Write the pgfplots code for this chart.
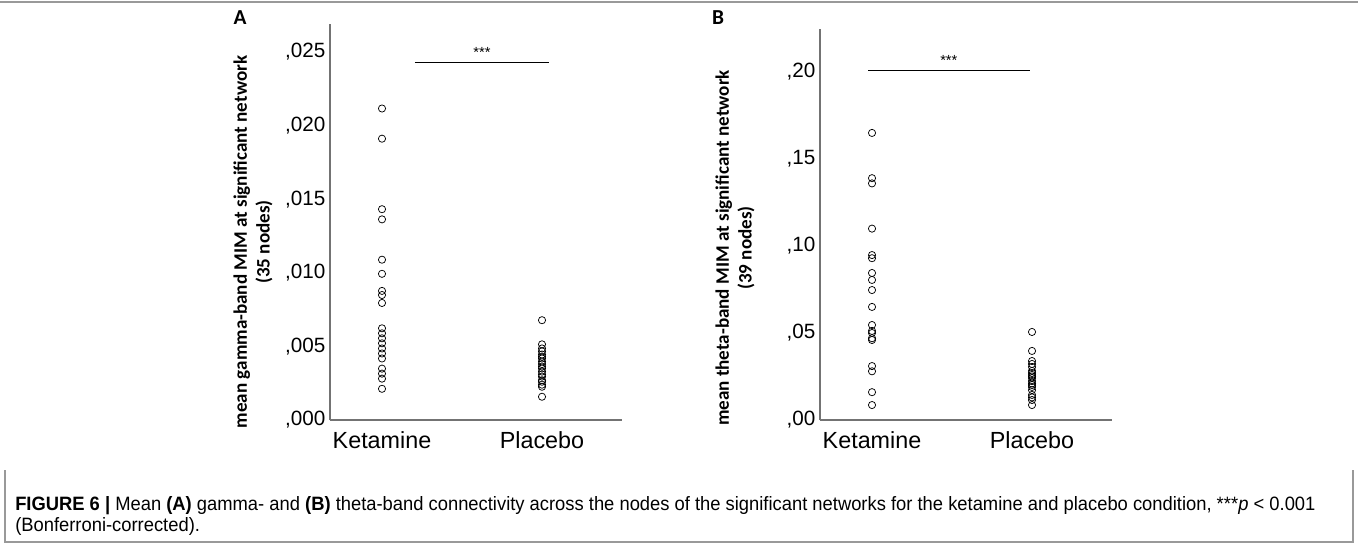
\documentclass[border=0pt]{standalone}
\usepackage{pgfplots}
\pgfplotsset{compat=1.18}
\usepackage{fontspec}
\setmainfont{Liberation Sans}
\newfontfamily\calibri{Carlito}
\newfontfamily\capfont[FakeStretch=0.95]{Liberation Sans}
\definecolor{spine}{gray}{0.45}
\definecolor{boxc}{gray}{0.6}
\begin{document}
\begin{tikzpicture}[x=0.75pt,y=0.75pt]
\useasboundingbox (0,0) rectangle (1358,544);
\coordinate (Aorig) at (330,124);
\coordinate (Borig) at (820,124);
\draw[boxc,line width=0.8pt] (0,542) -- (1358,542);
\draw[boxc,line width=0.8pt] (5,74) -- (5,2) -- (1353,2) -- (1353,74);
\pgfplotsset{
  spss/.style={
    scale only axis, anchor=south west,
    width=219pt,
    axis x line*=bottom, axis y line*=left,
    axis line style={spine, line width=0.9pt},
    major tick length=0pt,
    scaled y ticks=false,
    xmin=0.675, xmax=2.5, ymin=0,
    xtick={1,2}, xticklabels={Ketamine,Placebo},
    xticklabel style={font=\fontsize{17.5}{19}\selectfont, yshift=-5pt},
    yticklabel style={font=\fontsize{15.5}{18}\selectfont},
    clip=false,
  },
  pts/.style={only marks, mark=o, mark size=2.7pt, black, mark options={line width=0.55pt}},
}
% Panel A
\begin{axis}[spss, at={(Aorig)}, height=297pt, ymax=0.0269,
  ytick={0,0.005,0.01,0.015,0.02,0.025},
  yticklabels={{,000},{,005},{,010},{,015},{,020},{,025}}]
\addplot[pts] coordinates {
(1,0.02116) (1,0.01911) (1,0.01432) (1,0.01363) (1,0.01089) (1,0.00993)
(1,0.00877) (1,0.00849) (1,0.00795) (1,0.00623) (1,0.00589) (1,0.00555)
(1,0.00521) (1,0.00486) (1,0.00452) (1,0.00418) (1,0.00349) (1,0.00315)
(1,0.00281) (1,0.00212)};
\addplot[pts] coordinates {
(2,0.00678) (2,0.00514) (2,0.00486) (2,0.00466) (2,0.00445) (2,0.00418)
(2,0.00397) (2,0.00363) (2,0.00329) (2,0.00295) (2,0.00260) (2,0.00226)
(2,0.00158) (2,0.00430) (2,0.00380) (2,0.00350) (2,0.00310) (2,0.00270) (2,0.00240)};
\draw[black,line width=0.7pt] (axis cs:1.206,0.0243) -- (axis cs:2.044,0.0243);
\node[font=\fontsize{11}{12}\selectfont, anchor=south] at (axis cs:1.625,0.0243) {***};
\end{axis}
% Panel B
\begin{axis}[spss, at={(Borig)}, height=293.6pt, ymax=0.225,
  ytick={0,0.05,0.1,0.15,0.2},
  yticklabels={{,00},{,05},{,10},{,15},{,20}}]
\addplot[pts] coordinates {
(1,0.165) (1,0.139) (1,0.136) (1,0.110) (1,0.0948) (1,0.093) (1,0.0845)
(1,0.0805) (1,0.0747) (1,0.065) (1,0.0546) (1,0.0512) (1,0.050) (1,0.047)
(1,0.046) (1,0.031) (1,0.028) (1,0.016) (1,0.0086)};
\addplot[pts] coordinates {
(2,0.0506) (2,0.0397) (2,0.0339) (2,0.0322) (2,0.0305) (2,0.0282) (2,0.0259)
(2,0.0241) (2,0.0224) (2,0.0201) (2,0.0172) (2,0.0144) (2,0.0115) (2,0.0086)
(2,0.027) (2,0.025) (2,0.021) (2,0.019) (2,0.013)};
\draw[black,line width=0.7pt] (axis cs:0.975,0.201) -- (axis cs:1.988,0.201);
\node[font=\fontsize{11}{12}\selectfont, anchor=south] at (axis cs:1.48,0.201) {***};
\end{axis}
% panel letters
\node[font=\calibri\bfseries\fontsize{16}{18}\selectfont] at (240,526) {A};
\node[font=\calibri\bfseries\fontsize{16}{18}\selectfont] at (718,526) {B};
% y labels
\node[rotate=90, align=center, font=\calibri\bfseries\fontsize{14.3}{17}\selectfont] at (253,302)
  {mean gamma-band MIM at significant network\\(35 nodes)};
\node[rotate=90, align=center, font=\calibri\bfseries\fontsize{14.3}{17}\selectfont] at (735,296)
  {mean theta-band MIM at significant network\\(39 nodes)};
% caption
\node[anchor=base west, font=\capfont\fontsize{14.5}{16}\selectfont, inner sep=0pt] at (15,34)
  {\textbf{FIGURE 6 |} Mean \textbf{(A)} gamma- and \textbf{(B)} theta-band connectivity across the nodes of the significant networks for the ketamine and placebo condition, ***\textit{p} < 0.001};
\node[anchor=base west, font=\capfont\fontsize{14.5}{16}\selectfont, inner sep=0pt] at (15,13)
  {(Bonferroni-corrected).};
\end{tikzpicture}
\end{document}
